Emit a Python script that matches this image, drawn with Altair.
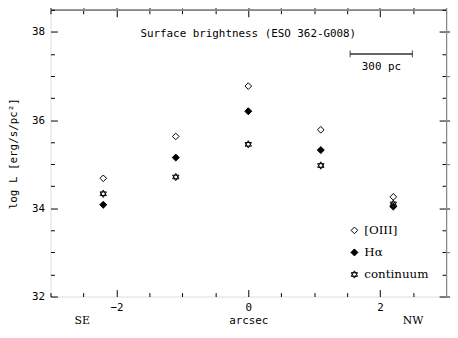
import altair as alt
import pandas as pd

# ---- data ----
positions = [-2.2, -1.1, 0.0, 1.1, 2.2]
oiii = [34.68, 35.63, 36.77, 35.78, 34.26]
halpha = [34.08, 35.15, 36.20, 35.32, 34.04]
continuum = [34.33, 34.71, 35.45, 34.97, 34.10]
series_names = ["[OIII]", "Hα", "continuum"]

legend_marker_x = [1.61, 1.61, 1.61]
legend_text_x = [1.76, 1.76, 1.76]
legend_y = [33.5, 33.0, 32.5]

x_tick_values = [-3.0, -2.5, -2.0, -1.5, -1.0, -0.5, 0.0, 0.5, 1.0, 1.5, 2.0, 2.5, 3.0]
y_tick_values = [32.0, 32.5, 33.0, 33.5, 34.0, 34.5, 35.0, 35.5, 36.0, 36.5, 37.0, 37.5, 38.0, 38.5]

title_text = ["Surface brightness (ESO 362-G008)"]
title_x = [0.0]
title_y = [37.95]

bar_x1 = [1.545]
bar_x2 = [2.49]
bar_y = [37.5]
bar_label = ["300 pc"]
bar_label_x = [2.02]
bar_label_y = [37.2]

dir_labels = ["SE", "NW"]
dir_x = [-2.52, 2.5]
dir_y = [31.45, 31.45]

W, H = 400, 290

rows = []
for name, vals in zip(series_names, [oiii, halpha, continuum]):
    for p, v in zip(positions, vals):
        rows.append({"x": p, "y": v, "series": name})
df = pd.DataFrame(rows)

legend_df = pd.DataFrame({"series": series_names, "x": legend_marker_x,
                          "tx": legend_text_x, "y": legend_y})

hexagram = "M0,-1L0.866,0.5L-0.866,0.5Z M0,1L0.866,-0.5L-0.866,-0.5Z"

xs = alt.Scale(domain=[-3, 3], nice=False, zero=False)
ys = alt.Scale(domain=[32, 38.5], nice=False, zero=False)
shape_scale = alt.Scale(domain=series_names, range=["diamond", "diamond", hexagram])
fill_scale = alt.Scale(domain=series_names, range=["white", "black", "white"])
size_scale = alt.Scale(domain=series_names, range=[45, 55, 60])

mono = "DejaVu Sans Mono"
serif = "DejaVu Serif"

tick_size = {"condition": {"test": "datum.value % 2 === 0", "value": 7}, "value": 4}

x_label_axis = alt.Axis(values=[-2, 0, 2], ticks=False, tickSize=0, domain=False, grid=False,
                        labelFont=mono, labelFontSize=11, labelColor="black", labelPadding=5,
                        title="arcsec", titleFont=mono, titleFontSize=11, titleFontWeight="normal",
                        titleColor="black", titlePadding=2, orient="bottom")
y_label_axis = alt.Axis(values=[32, 34, 36, 38], ticks=False, tickSize=0, domain=False, grid=False,
                        labelFont=mono, labelFontSize=11, labelColor="black", labelPadding=6,
                        title="log L [erg/s/pc²]", titleFont=mono, titleFontSize=11,
                        titleFontWeight="normal", titleColor="black", titlePadding=13, orient="left")


def tick_axis(orient, offset, values):
    return alt.Axis(orient=orient, offset=offset, values=values, labels=False, domain=False,
                    grid=False, title=None, ticks=True, tickSize=tick_size, tickColor="black",
                    tickWidth=1)


points = alt.Chart(df).mark_point(opacity=1, strokeWidth=1, stroke="black").encode(
    x=alt.X("x:Q", scale=xs, axis=x_label_axis),
    y=alt.Y("y:Q", scale=ys, axis=y_label_axis),
    shape=alt.Shape("series:N", scale=shape_scale, legend=None),
    fill=alt.Fill("series:N", scale=fill_scale, legend=None),
    size=alt.Size("series:N", scale=size_scale, legend=None),
)

ticks_a = alt.Chart(df).mark_point(opacity=0).encode(
    x=alt.X("x:Q", scale=xs, axis=tick_axis("top", -H, x_tick_values)),
    y=alt.Y("y:Q", scale=ys, axis=tick_axis("right", -W, y_tick_values)),
)
ticks_b = alt.Chart(df).mark_point(opacity=0).encode(
    x=alt.X("x:Q", scale=xs, axis=tick_axis("bottom", -H, x_tick_values)),
    y=alt.Y("y:Q", scale=ys, axis=tick_axis("left", -W, y_tick_values)),
)

legend_pts = alt.Chart(legend_df).mark_point(opacity=1, strokeWidth=1, stroke="black").encode(
    x=alt.X("x:Q", scale=xs),
    y=alt.Y("y:Q", scale=ys),
    shape=alt.Shape("series:N", scale=shape_scale, legend=None),
    fill=alt.Fill("series:N", scale=fill_scale, legend=None),
    size=alt.Size("series:N", scale=size_scale, legend=None),
)
legend_txt = alt.Chart(legend_df).mark_text(align="left", baseline="middle", font=serif,
                                            fontSize=12, color="black").encode(
    x=alt.X("tx:Q", scale=xs),
    y=alt.Y("y:Q", scale=ys),
    text="series:N",
)

title_df = pd.DataFrame({"x": title_x, "y": title_y, "t": title_text})
title_mark = alt.Chart(title_df).mark_text(font=mono, fontSize=11, color="black",
                                           baseline="middle", align="center").encode(
    x=alt.X("x:Q", scale=xs), y=alt.Y("y:Q", scale=ys), text="t:N")

bar_df = pd.DataFrame({"x1": bar_x1, "x2": bar_x2, "y": bar_y})
bar_rule = alt.Chart(bar_df).mark_rule(color="#333333", strokeWidth=1.5).encode(
    x=alt.X("x1:Q", scale=xs), x2="x2:Q", y=alt.Y("y:Q", scale=ys))
cap_df = pd.DataFrame({"x": bar_x1 + bar_x2, "y": bar_y + bar_y})
bar_caps = alt.Chart(cap_df).mark_tick(orient="vertical", color="#222222", size=7,
                                       thickness=1.2).encode(
    x=alt.X("x:Q", scale=xs), y=alt.Y("y:Q", scale=ys))
bar_lab_df = pd.DataFrame({"x": bar_label_x, "y": bar_label_y, "t": bar_label})
bar_text = alt.Chart(bar_lab_df).mark_text(font=mono, fontSize=11, color="black",
                                           baseline="middle", align="center").encode(
    x=alt.X("x:Q", scale=xs), y=alt.Y("y:Q", scale=ys), text="t:N")

dir_df = pd.DataFrame({"x": dir_x, "y": dir_y, "t": dir_labels})
dir_text = alt.Chart(dir_df).mark_text(font=serif, fontSize=11, color="black",
                                       baseline="middle", align="center", clip=False).encode(
    x=alt.X("x:Q", scale=xs), y=alt.Y("y:Q", scale=ys), text="t:N")

chart = alt.layer(
    points, ticks_a, ticks_b, legend_pts, legend_txt, title_mark,
    bar_rule, bar_caps, bar_text, dir_text
).resolve_scale(
    x="shared", y="shared"
).resolve_axis(
    x="independent", y="independent"
).properties(
    width=W, height=H,
    autosize=alt.AutoSizeParams(type="none"),
    padding={"left": 43, "top": 0, "right": 4, "bottom": 30},
).configure_view(
    stroke="black", strokeWidth=1
).configure(background="white")

chart.save("out.html", embed_options={"renderer": "svg", "actions": False})
